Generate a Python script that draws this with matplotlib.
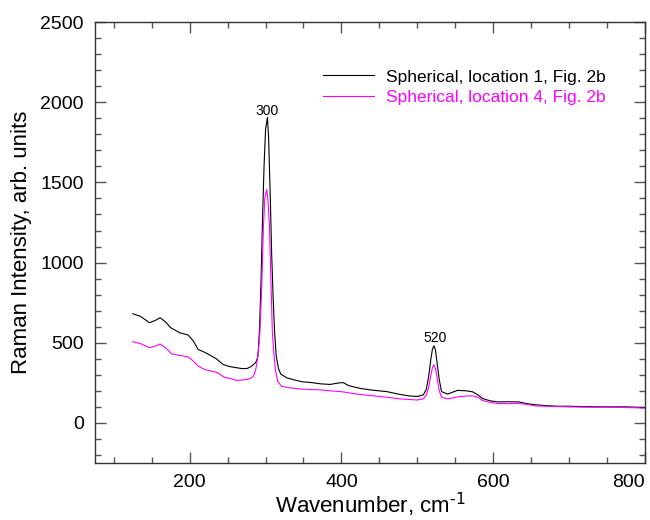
import matplotlib
matplotlib.use("Agg")
import matplotlib.pyplot as plt
from matplotlib.ticker import MultipleLocator

plt.rcParams['font.family'] = ['Liberation Sans', 'DejaVu Sans']

# Spherical, location 1 (black)
wn_loc1 = [125, 135, 147, 155, 161, 168, 175, 187, 198, 205, 211, 220, 227, 235, 244, 252,
           262, 270, 276, 281, 286, 288, 290, 292, 294, 296, 298, 300, 302.5, 304, 306, 308,
           310, 312, 314, 317, 320, 328, 338, 349, 360, 372, 385, 395, 402, 410, 425, 440,
           460, 477, 490, 500, 508, 512, 515, 518, 520, 522, 524, 526, 529, 532, 540, 553,
           565, 573, 580, 586, 596, 606, 620, 634, 645, 656, 670, 685, 700, 715, 730, 745,
           760, 775, 790, 800]
int_loc1 = [681, 665, 625, 640, 656, 630, 594, 562, 548, 510, 458, 440, 422, 400, 365, 352,
            344, 338, 340, 352, 372, 385, 420, 580, 880, 1270, 1600, 1830, 1906, 1780, 1450, 1060,
            780, 560, 420, 340, 305, 281, 268, 256, 252, 244, 240, 248, 252, 232, 215, 205,
            195, 178, 168, 165, 175, 210, 290, 400, 460, 481, 455, 380, 270, 195, 180, 203,
            200, 194, 175, 152, 138, 131, 132, 131, 120, 113, 108, 104, 104, 102, 101, 100,
            100, 100, 98, 96]

# Spherical, location 4 (magenta)
wn_loc4 = [125, 135, 147, 155, 161, 168, 176, 187, 198, 205, 211, 220, 227, 236, 246, 255,
           262, 270, 276, 281, 284, 287, 290, 292.5, 295, 297, 299, 301.5, 303, 305, 307, 309,
           311, 313, 316, 321, 333, 345, 360, 372, 385, 400, 420, 440, 460, 477, 490, 500,
           508, 512, 515, 518, 520, 522, 524, 526, 529, 532, 540, 553, 565, 573, 580, 586,
           596, 606, 620, 634, 645, 656, 670, 685, 700, 715, 730, 745, 760, 775, 790, 800]
int_loc4 = [506, 495, 469, 480, 492, 470, 431, 421, 412, 385, 355, 332, 325, 315, 284, 275,
            265, 268, 272, 280, 292, 331, 420, 562, 850, 1200, 1400, 1456, 1400, 1240, 900, 562,
            430, 330, 260, 228, 218, 212, 208, 206, 200, 195, 180, 170, 160, 150, 146, 143,
            150, 175, 220, 300, 345, 363, 340, 285, 200, 160, 150, 162, 168, 169, 160, 140,
            128, 121, 120, 122, 115, 106, 104, 102, 100, 99, 98, 98, 97, 96, 94, 92]

fig = plt.figure(figsize=(6.5, 5.2), dpi=100)
ax = fig.add_axes([0.146, 0.1096, 0.846, 0.848])

ax.plot(wn_loc1, int_loc1, color='black', lw=0.8, label='Spherical, location 1, Fig. 2b')
ax.plot(wn_loc4, int_loc4, color='#ff00ff', lw=0.8, label='Spherical, location 4, Fig. 2b')

ax.set_xlim(75, 800)
ax.set_ylim(-250, 2500)
ax.xaxis.set_major_locator(MultipleLocator(200))
ax.xaxis.set_minor_locator(MultipleLocator(50))
ax.yaxis.set_major_locator(MultipleLocator(500))
ax.yaxis.set_minor_locator(MultipleLocator(100))
ax.tick_params(which='both', direction='in', top=True, right=True, colors='#555555',
               labelcolor='black', labelsize=14, width=1)
ax.tick_params(which='major', length=8, pad=8)
ax.tick_params(which='minor', length=4.3)
for sp in ax.spines.values():
    sp.set_color('#333333')
    sp.set_linewidth(1)

ax.set_xlabel('Wavenumber, cm$^{\\text{-1}}$', fontsize=16, labelpad=0)
ax.set_ylabel('Raman Intensity, arb. units', fontsize=16, labelpad=6)

# keep the last x tick label inside the figure
fig.canvas.draw()
for lab in ax.get_xticklabels():
    if lab.get_text() == '800':
        lab.set_horizontalalignment('right')
        lab.set_x(lab.get_position()[0] + 4)

ax.text(302.5, 1945, '300', fontsize=10, ha='center', va='center')
ax.text(523, 530, '520', fontsize=10, ha='center', va='center')

ax.legend(loc='upper right', bbox_to_anchor=(0.957, 0.928), frameon=False, fontsize=12.5,
          labelcolor='linecolor', handlelength=2.9, handletextpad=0.7, labelspacing=0.32)

fig.savefig('out.png', dpi=100)
